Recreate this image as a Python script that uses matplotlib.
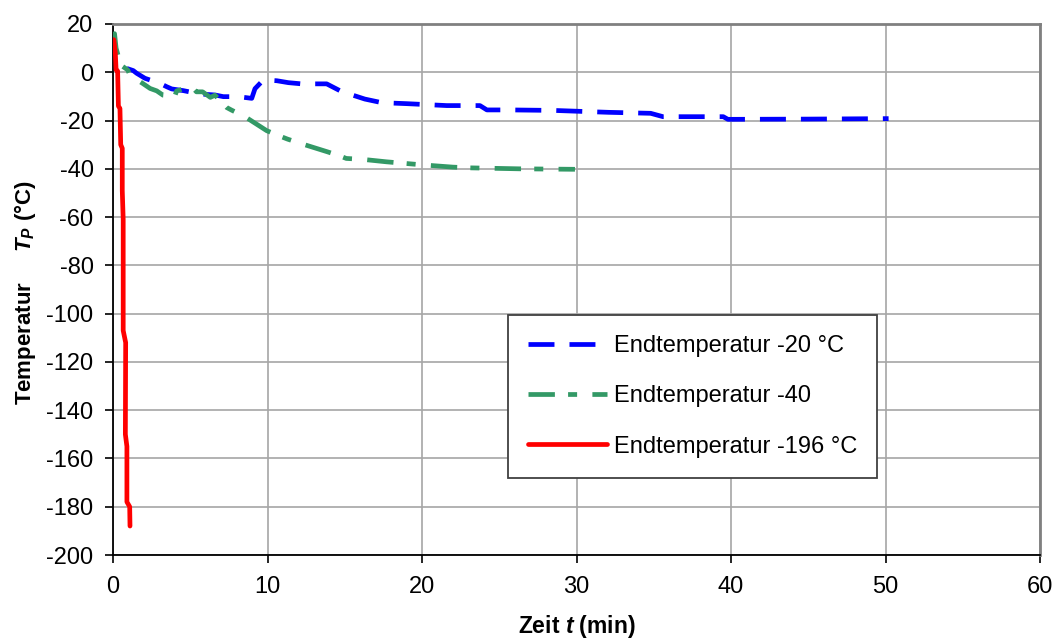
import matplotlib
matplotlib.use("Agg")
import matplotlib.pyplot as plt

plt.rcParams["font.family"] = ["Liberation Sans", "DejaVu Sans"]
plt.rcParams["mathtext.fontset"] = "custom"
plt.rcParams["mathtext.it"] = "Liberation Sans:italic:bold"
plt.rcParams["mathtext.rm"] = "Liberation Sans:bold"
plt.rcParams["lines.scale_dashes"] = False
plt.rcParams["axes.unicode_minus"] = False

# Endtemperatur -20 °C
t_20 = [0.89, 1.31, 1.53, 2.07, 3.04, 3.48, 3.8, 4.55, 5.63, 6.6, 7.14, 8.1, 8.98,
        9.19, 9.73, 10.6, 11.35, 12.2, 13.83, 14.8, 16.3, 17.4, 19.0, 21.6, 23.75,
        24.2, 25.7, 28.5, 32.1, 34.8, 35.6, 39.5, 39.8, 45.0, 50.2]
T_20 = [1.6, 0.7, -0.4, -2.5, -4.6, -6.0, -6.9, -7.6, -9.0, -9.4, -10.1, -10.1, -10.8,
        -6.8, -3.2, -3.5, -4.3, -4.8, -4.8, -8.0, -11.1, -12.6, -13.0, -13.8, -13.8,
        -15.6, -15.6, -15.8, -16.6, -17.0, -18.4, -18.4, -19.5, -19.4, -19.2]

# Endtemperatur -40
t_40 = [0.05, 0.1, 0.2, 0.5, 0.95, 1.1, 1.94, 2.4, 2.83, 3.24, 4.0, 4.12, 5.1, 5.4,
        5.8, 6.3, 6.6, 7.36, 7.68, 8.54, 9.95, 10.9, 11.3, 12.3, 13.9, 14.7, 15.1,
        16.2, 17.7, 19.9, 22.0, 23.1, 26.3, 29.9]
T_40 = [14.0, 16.0, 10.0, 3.0, 1.0, -1.2, -4.7, -6.7, -7.7, -9.5, -9.9, -7.7, -6.0,
        -8.1, -8.1, -10.4, -9.5, -14.6, -15.7, -18.4, -24.2, -26.7, -27.7, -29.8,
        -33.0, -34.7, -35.7, -36.1, -37.1, -38.3, -39.3, -39.6, -40.0, -40.2]

# Endtemperatur -196 °C
t_196 = [0.0, 0.05, 0.15, 0.2, 0.3, 0.35, 0.45, 0.5, 0.6, 0.6, 0.66, 0.66, 0.82,
         0.8, 0.9, 0.9, 1.08, 1.1]
T_196 = [12.0, 13.5, 8.0, 1.0, 0.5, -14.0, -15.0, -30.0, -31.5, -49.0, -61.0, -107.0,
         -112.0, -150.0, -155.0, -178.0, -180.0, -188.0]

labels = ["Endtemperatur -20 °C", "Endtemperatur -40", "Endtemperatur -196 °C"]
x_ticks = list(range(0, 61, 10))
y_ticks = list(range(-200, 21, 20))

fig = plt.figure(figsize=(10.52, 6.43), dpi=100)
ax = fig.add_axes([113 / 1052, 1 - 555 / 643, 927 / 1052, 531 / 643])

ax.plot(t_20, T_20, color="#0000FF", lw=3.4, dashes=(18.7, 10.8),
        dash_capstyle="butt", solid_joinstyle="round", label=labels[0], zorder=3)
ax.plot(t_40, T_40, color="#339966", lw=3.4, dashes=(19, 9.5, 6.5, 11),
        dash_capstyle="butt", label=labels[1], zorder=3)
ax.plot(t_196, T_196, color="#FF0000", lw=3.4, solid_capstyle="round",
        solid_joinstyle="round", label=labels[2], zorder=4)

ax.set_xlim(0, 60)
ax.set_ylim(-200, 20)
ax.set_xticks(x_ticks)
ax.set_yticks(y_ticks)
ax.grid(True, color="#a6a6a6", lw=1.2)
ax.set_axisbelow(True)
ax.tick_params(axis="both", labelsize=17, length=6, width=1.2, direction="out",
               color="black")
ax.tick_params(axis="x", pad=9)
ax.tick_params(axis="y", pad=8)

for side in ("left", "bottom"):
    ax.spines[side].set_color("black")
    ax.spines[side].set_linewidth(1.3)
for side in ("top", "right"):
    ax.spines[side].set_color("#808080")
    ax.spines[side].set_linewidth(2.0)

ax.set_xlabel("Zeit $t$ (min)", fontsize=16.5, fontweight="bold", labelpad=11)
fig.text(25 / 1052, 1 - 293 / 643, "Temperatur     $T_P$ (°C)", rotation=90,
         ha="center", va="center", fontsize=16, fontweight="bold")

leg = ax.legend(loc="upper left", bbox_to_anchor=(0.426, 0.452), fontsize=17,
                frameon=True, fancybox=False, framealpha=1, edgecolor="#404040",
                borderpad=0.85, labelspacing=1.2, handlelength=3.35,
                handletextpad=0.3, borderaxespad=0)
leg.get_frame().set_linewidth(1.3)

fig.savefig("out.png", dpi=100)
